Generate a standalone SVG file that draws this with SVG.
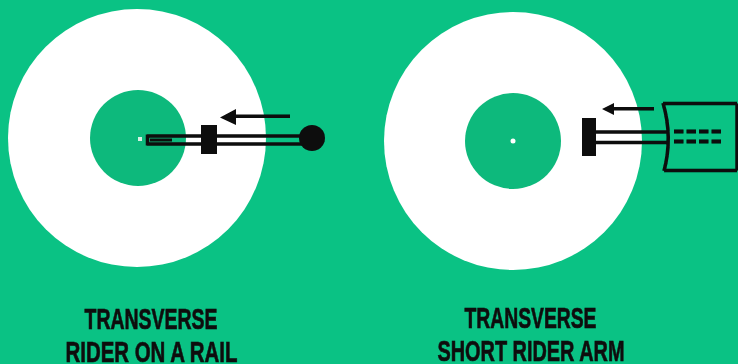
<svg xmlns="http://www.w3.org/2000/svg" width="738" height="364" viewBox="0 0 738 364">
<defs>
<filter id="soft" x="-5%" y="-5%" width="110%" height="110%"><feGaussianBlur stdDeviation="0.6"/></filter>
<style>
.disc{fill:#fff}
.hub{fill:#10b97c}
.ink{fill:#0a0a0a}
.line{stroke:#0a0a0a;fill:none;stroke-width:3.500}
text{font-family:"Liberation Sans Narrow","Liberation Sans",Arial,sans-serif;font-weight:700;font-size:29px;fill:#111;stroke:#111;stroke-width:.7px;text-anchor:middle}
</style></defs>
<rect width="738" height="364" fill="#0ac284"/>
<g filter="url(#soft)">
<g id="left-disc">
<circle class="disc" cx="137" cy="138" r="129"/>
<circle class="hub" cx="138" cy="138" r="48"/>
<rect x="138" y="137" width="4" height="4" fill="#d8f0e4"/>
</g>
<g id="right-disc">
<circle class="disc" cx="513" cy="141" r="129"/>
<circle class="hub" cx="513" cy="141" r="48"/>
<circle cx="513" cy="141" r="2.500" fill="#fff"/>
</g>
<g id="left-rider">
<rect class="ink" x="201" y="125" width="16" height="29"/>
<circle class="ink" cx="312" cy="138" r="13"/>
</g>
<g id="right-rider">
<rect class="ink" x="582" y="118" width="14" height="38"/>
<path class="line" d="M737 103.500H663M737 103.500V170.500M737 170.500H664M663 103Q673 137 664 171"/>
<path d="M674 131.500H721M674 141.500H721" stroke="#0a0a0a" stroke-width="3.800" stroke-dasharray="9.500 3" fill="none"/>
</g>
<g id="connectors">
<path class="line" d="M147 136H302M147 144H302M147.500 134.500V145.500"/>
<path d="M150 140H172" stroke="#0a0a0a" stroke-width="3" fill="none"/>
<path class="ink" d="M220 117.500L236 109V114.500H290V118H236V125Z"/>
<path class="line" d="M596 132H667M596 142.500H667"/>
<path class="ink" d="M602 109L614 103V107H654V110.500H614V115Z"/>
</g>
<g id="left-label">
<text x="151" y="329" textLength="133" lengthAdjust="spacingAndGlyphs">TRANSVERSE</text>
<text x="151.500" y="361.500" textLength="172" lengthAdjust="spacingAndGlyphs">RIDER ON A RAIL</text>
</g>
<g id="right-label">
<text x="530.500" y="328" textLength="132" lengthAdjust="spacingAndGlyphs">TRANSVERSE</text>
<text x="531" y="361" textLength="187" lengthAdjust="spacingAndGlyphs">SHORT RIDER ARM</text>
</g>
</g>
</svg>
